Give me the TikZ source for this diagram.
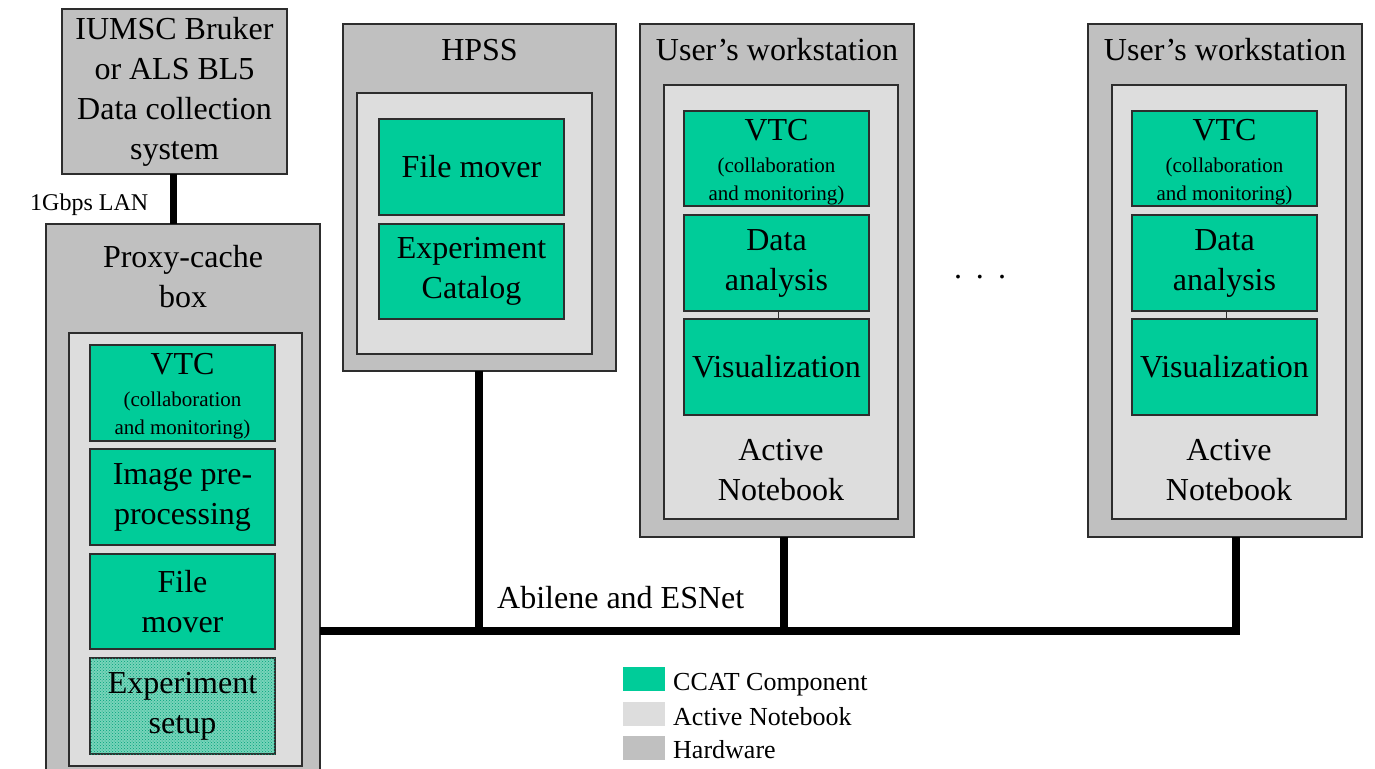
\documentclass[tikz,border=0pt]{standalone}
\usepackage{fontspec}
\setmainfont{Liberation Serif}
\usetikzlibrary{patterns}
\definecolor{ccat}{RGB}{0,204,153}
\definecolor{anb}{RGB}{221,221,221}
\definecolor{hwg}{RGB}{192,192,192}
\definecolor{bord}{RGB}{45,45,45}
\definecolor{expc}{RGB}{120,212,186}
\begin{document}
\begin{tikzpicture}[x=1pt,y=-1pt,
  box/.style={draw=bord, line width=1.3pt, anchor=north west, inner sep=0pt, outer sep=0pt},
  hw/.style={box, fill=hwg},
  an/.style={box, fill=anb},
  cc/.style={box, fill=ccat},
  es/.style={box, fill=expc, postaction={pattern=crosshatch dots, pattern color=ccat!80!black}},
  big/.style={font=\fontsize{32}{40}\selectfont, align=center, inner sep=0pt},
  small/.style={font=\fontsize{21}{28}\selectfont, align=center, inner sep=0pt},
  net/.style={line width=8pt, line join=miter},
  leg/.style={font=\fontsize{26}{30}\selectfont, anchor=base west, inner sep=0pt},
  legsq/.style={anchor=north west, inner sep=0pt, minimum width=42pt, minimum height=24pt}]
\useasboundingbox (0,0) rectangle (1375,768);
\clip (0,0) rectangle (1375,768);
\fill[white] (0,0) rectangle (1375,768);

% IUMSC
\node[hw, minimum width=225pt, minimum height=165pt] (iumsc) at (62,9) {};
\node[big] (iumscT) at (174.5,92) {IUMSC Bruker\\or ALS BL5\\Data collection\\system};
\node[font=\fontsize{24}{28}\selectfont, anchor=base west, inner sep=0pt] (lan) at (30,210) {1Gbps LAN};

% Proxy-cache box
\node[hw, minimum width=274pt, minimum height=566pt] (proxy) at (46,224) {};
\node[big] (proxyT) at (183,277) {Proxy-cache\\box};
\node[an, minimum width=233pt, minimum height=433pt] (proxyin) at (69,333) {};
\node[cc, minimum width=185pt, minimum height=96pt] (pvtc) at (90,345) {};
\node[big] (pvtcT) at (182.5,364) {VTC};
\node[small] (pvtcS) at (182.5,415) {(collaboration\\and monitoring)};
\node[cc, minimum width=185pt, minimum height=96pt] (pimg) at (90,449) {};
\node[big] (pimgT) at (pimg.center) {Image pre-\\processing};
\node[cc, minimum width=185pt, minimum height=95pt] (pfile) at (90,554) {};
\node[big] (pfileT) at (pfile.center) {File\\mover};
\node[es, minimum width=185pt, minimum height=96pt] (pexp) at (90,658) {};
\node[big] (pexpT) at (pexp.center) {Experiment\\setup};

% HPSS
\node[hw, minimum width=273pt, minimum height=347pt] (hpss) at (343,24) {};
\node[big] (hpssT) at (479.5,50) {HPSS};
\node[an, minimum width=235pt, minimum height=261pt] (hpssin) at (357,93) {};
\node[cc, minimum width=185pt, minimum height=96pt] (hfile) at (379,119) {};
\node[big] (hfileT) at (hfile.center) {File mover};
\node[cc, minimum width=185pt, minimum height=95pt] (hcat) at (379,224) {};
\node[big] (hcatT) at (hcat.center) {Experiment\\Catalog};

% Workstation 1
\node[hw, minimum width=274pt, minimum height=513pt] (ws1) at (640,24) {};
\node[big] (ws1T) at (777,50) {User’s workstation};
\node[an, minimum width=234pt, minimum height=434pt] (ws1in) at (664,85) {};
\node[cc, minimum width=185pt, minimum height=95pt] (w1vtc) at (684,111) {};
\node[big] (w1vtcT) at (776.5,130) {VTC};
\node[small] (w1vtcS) at (776.5,181) {(collaboration\\and monitoring)};
\node[cc, minimum width=185pt, minimum height=96pt] (w1da) at (684,215) {};
\node[big] (w1daT) at (w1da.center) {Data\\analysis};
\node[cc, minimum width=185pt, minimum height=96pt] (w1vis) at (684,319) {};
\node[big] (w1visT) at (w1vis.center) {Visualization};
\node[big] (w1an) at (781,470) {Active\\Notebook};

% dots
\node[font=\fontsize{32}{38}\selectfont, anchor=base, inner sep=0pt] (dots) at (980,278) {.\hspace{14pt}.\hspace{14pt}.};

% Workstation 2
\node[hw, minimum width=274pt, minimum height=513pt] (ws2) at (1088,24) {};
\node[big] (ws2T) at (1225,50) {User’s workstation};
\node[an, minimum width=234pt, minimum height=434pt] (ws2in) at (1112,85) {};
\node[cc, minimum width=185pt, minimum height=95pt] (w2vtc) at (1132,111) {};
\node[big] (w2vtcT) at (1224.5,130) {VTC};
\node[small] (w2vtcS) at (1224.5,181) {(collaboration\\and monitoring)};
\node[cc, minimum width=185pt, minimum height=96pt] (w2da) at (1132,215) {};
\node[big] (w2daT) at (w2da.center) {Data\\analysis};
\node[cc, minimum width=185pt, minimum height=96pt] (w2vis) at (1132,319) {};
\node[big] (w2visT) at (w2vis.center) {Visualization};
\node[big] (w2an) at (1229,470) {Active\\Notebook};

% small ticks between boxes
\draw[bord, line width=0.8pt] ([xshift=2pt]w1da.south) -- ([xshift=2pt]w1vis.north);
\draw[bord, line width=0.8pt] ([xshift=2pt]w2da.south) -- ([xshift=2pt]w2vis.north);

% network
\coordinate (lanx) at (173,0);
\coordinate (j1) at (479,631);
\coordinate (j2) at (784,631);
\coordinate (j3) at (1236,631);
\draw[line width=7pt] (iumsc.south -| lanx) -- (proxy.north -| lanx);
\draw[net] (hpss.south -| j1) -- (j1);
\draw[net] (ws1.south -| j2) -- (j2);
\draw[net] (j1 -| proxy.east) -- (j3) -- (ws2.south -| j3);
\node[font=\fontsize{32}{38}\selectfont, anchor=base west, inner sep=0pt] (abil) at (497,608) {Abilene and ESNet};

% legend
\node[legsq, fill=ccat] (lg1) at (623,667) {};
\node[legsq, fill=anb] (lg2) at (623,702) {};
\node[legsq, fill=hwg] (lg3) at (623,736) {};
\node[leg] (lt1) at (673,690) {CCAT Component};
\node[leg] (lt2) at (673,725) {Active Notebook};
\node[leg] (lt3) at (673,758) {Hardware};
\end{tikzpicture}
\end{document}
